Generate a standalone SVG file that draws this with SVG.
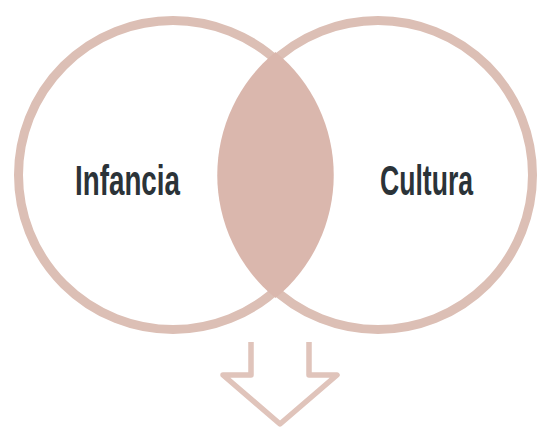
<svg xmlns="http://www.w3.org/2000/svg" width="538" height="428" viewBox="0 0 538 428">
  <style>
    .ring { fill: none; stroke: #dcbfb5; stroke-width: 9; }
    .lens { fill: #dab7ad; stroke: none; }
    .label { font-family: "Liberation Sans", Arial, sans-serif; font-weight: bold; font-size: 42px; fill: #2b3338; }
    .arrow { fill: none; stroke: #e0c4bb; stroke-width: 5.5; stroke-linejoin: round; stroke-linecap: butt; }
  </style>
  <rect width="538" height="428" fill="#ffffff"/>
  <g id="infancia">
    <circle class="ring" cx="173" cy="175" r="154.5"/>
    <text class="label" x="75" y="195" textLength="105" lengthAdjust="spacingAndGlyphs">Infancia</text>
  </g>
  <g id="cultura">
    <circle class="ring" cx="378" cy="175" r="154.5"/>
    <text class="label" x="380" y="195" textLength="93" lengthAdjust="spacingAndGlyphs">Cultura</text>
  </g>
  <g id="intersection">
    <path class="lens" d="M 275.5 52 A 159 159 0 0 1 275.5 298 A 159 159 0 0 1 275.5 52 Z"/>
  </g>
  <g id="connectors">
    <path class="arrow" d="M 251 342 L 251 375 L 223 375 L 280 424 L 337 375 L 309 375 L 309 342"/>
  </g>
</svg>
